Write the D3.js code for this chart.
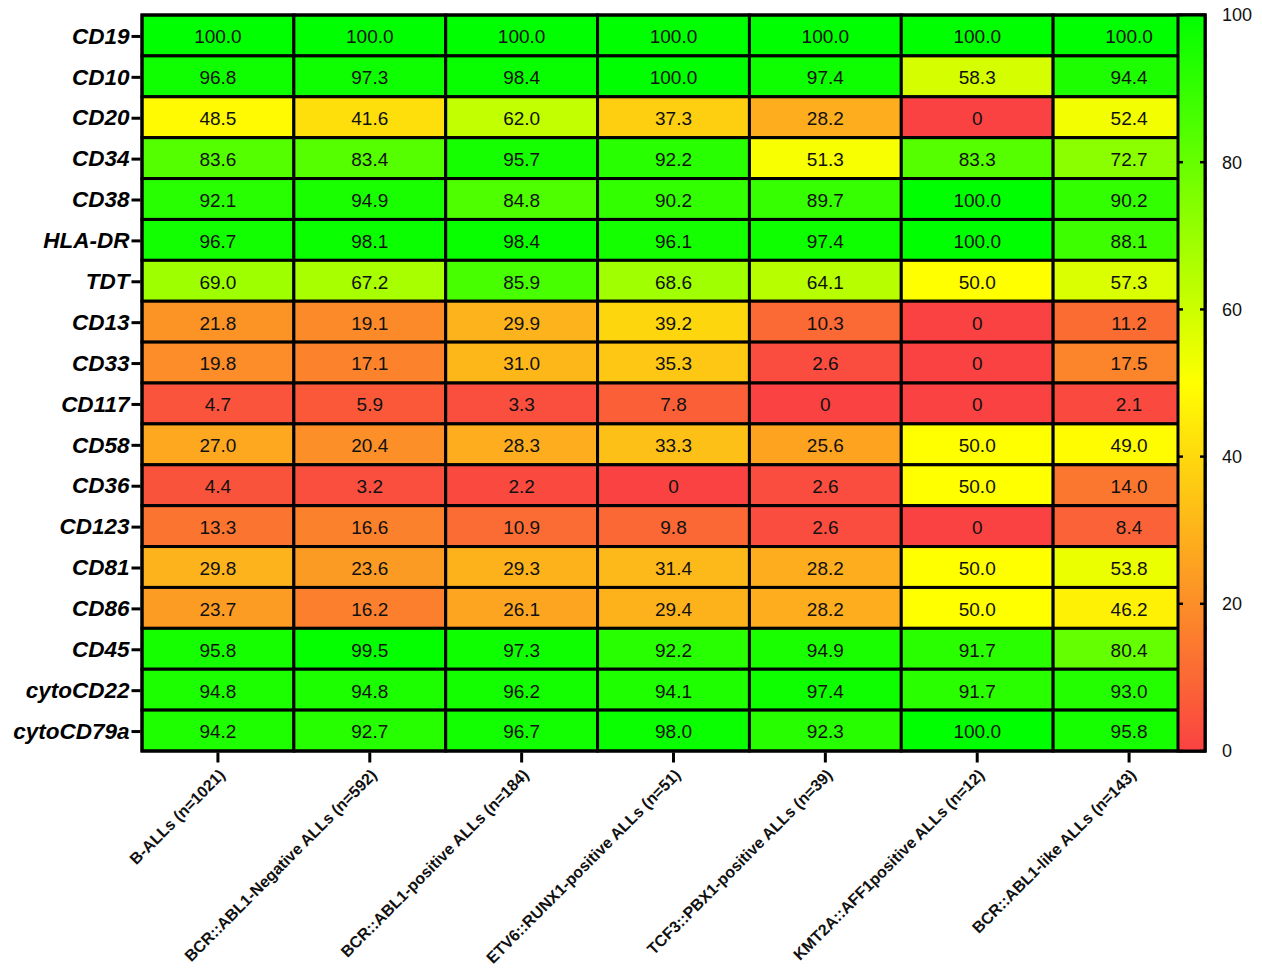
<!DOCTYPE html>
<html>
<head>
<meta charset="utf-8">
<script src="https://cdn.jsdelivr.net/npm/d3@7"></script>
<style>
  html, body { margin: 0; padding: 0; background: #fff; }
  svg { display: block; font-family: "Liberation Sans", Arial, sans-serif; }
</style>
</head>
<body>
<svg id="chart" width="1262" height="970"></svg>
<script>
// Surface markers (rows) and patient groups (columns)
const markers = ["CD19", "CD10", "CD20", "CD34", "CD38", "HLA-DR", "TDT", "CD13", "CD33",
  "CD117", "CD58", "CD36", "CD123", "CD81", "CD86", "CD45", "cytoCD22", "cytoCD79a"];

const groups = [
  "B-ALLs (n=1021)",
  "BCR::ABL1-Negative ALLs (n=592)",
  "BCR::ABL1-positive ALLs (n=184)",
  "ETV6::RUNX1-positive ALLs (n=51)",
  "TCF3::PBX1-positive ALLs (n=39)",
  "KMT2A::AFF1positive ALLs (n=12)",
  "BCR::ABL1-like ALLs (n=143)"
];

// Percentage of positive cases, one array per marker, in group order
const CD19      = [100.0, 100.0, 100.0, 100.0, 100.0, 100.0, 100.0];
const CD10      = [96.8, 97.3, 98.4, 100.0, 97.4, 58.3, 94.4];
const CD20      = [48.5, 41.6, 62.0, 37.3, 28.2, 0, 52.4];
const CD34      = [83.6, 83.4, 95.7, 92.2, 51.3, 83.3, 72.7];
const CD38      = [92.1, 94.9, 84.8, 90.2, 89.7, 100.0, 90.2];
const HLADR     = [96.7, 98.1, 98.4, 96.1, 97.4, 100.0, 88.1];
const TDT       = [69.0, 67.2, 85.9, 68.6, 64.1, 50.0, 57.3];
const CD13      = [21.8, 19.1, 29.9, 39.2, 10.3, 0, 11.2];
const CD33      = [19.8, 17.1, 31.0, 35.3, 2.6, 0, 17.5];
const CD117     = [4.7, 5.9, 3.3, 7.8, 0, 0, 2.1];
const CD58      = [27.0, 20.4, 28.3, 33.3, 25.6, 50.0, 49.0];
const CD36      = [4.4, 3.2, 2.2, 0, 2.6, 50.0, 14.0];
const CD123     = [13.3, 16.6, 10.9, 9.8, 2.6, 0, 8.4];
const CD81      = [29.8, 23.6, 29.3, 31.4, 28.2, 50.0, 53.8];
const CD86      = [23.7, 16.2, 26.1, 29.4, 28.2, 50.0, 46.2];
const CD45      = [95.8, 99.5, 97.3, 92.2, 94.9, 91.7, 80.4];
const cytoCD22  = [94.8, 94.8, 96.2, 94.1, 97.4, 91.7, 93.0];
const cytoCD79a = [94.2, 92.7, 96.7, 98.0, 92.3, 100.0, 95.8];

const rowValues = [CD19, CD10, CD20, CD34, CD38, HLADR, TDT, CD13, CD33, CD117,
  CD58, CD36, CD123, CD81, CD86, CD45, cytoCD22, cytoCD79a];

const legendTicks = [0, 20, 40, 60, 80, 100];

// Layout
const plotL = 142, plotR = 1205, plotT = 15, plotB = 751;
const barX0 = 1178;

const svg = d3.select("#chart");

const x = d3.scaleBand().domain(groups).range([plotL, plotR]).padding(0);
const y = d3.scaleBand().domain(markers).range([plotT, plotB]).padding(0);

const color = d3.scaleLinear()
  .domain([0, 50, 100])
  .range(["rgb(250,66,66)", "rgb(255,255,0)", "rgb(0,255,0)"])
  .interpolate(d3.interpolateRgb);

const cells = [];
markers.forEach((m, i) => {
  groups.forEach((g, j) => cells.push({ marker: m, group: g, value: rowValues[i][j] }));
});

// Heatmap cells
svg.append("g")
  .selectAll("rect")
  .data(cells)
  .join("rect")
  .attr("x", d => x(d.group))
  .attr("y", d => y(d.marker))
  .attr("width", x.bandwidth())
  .attr("height", y.bandwidth())
  .attr("fill", d => color(d.value))
  .attr("stroke", "#000")
  .attr("stroke-width", 3);

// Cell values
svg.append("g")
  .selectAll("text")
  .data(cells)
  .join("text")
  .attr("x", d => x(d.group) + x.bandwidth() / 2)
  .attr("y", d => y(d.marker) + y.bandwidth() / 2 + 1)
  .attr("dy", "0.36em")
  .attr("text-anchor", "middle")
  .attr("font-size", 19)
  .attr("fill", "#111")
  .text(d => d.value === 0 ? "0" : d.value.toFixed(1));

// Outer frame
svg.append("rect")
  .attr("x", plotL).attr("y", plotT)
  .attr("width", plotR - plotL).attr("height", plotB - plotT)
  .attr("fill", "none").attr("stroke", "#000").attr("stroke-width", 3);

// Y axis
const yAxis = svg.append("g")
  .attr("transform", `translate(${plotL - 1.5},1)`)
  .call(d3.axisLeft(y).tickSize(9).tickPadding(2));
yAxis.select(".domain").remove();
yAxis.selectAll(".tick line").attr("stroke", "#000").attr("stroke-width", 3);
yAxis.selectAll(".tick text")
  .attr("font-size", 22.5)
  .attr("font-weight", "bold")
  .attr("font-style", "italic")
  .attr("fill", "#000")
  .attr("font-family", "'Liberation Sans', Arial, sans-serif");

// X axis
const xAxis = svg.append("g")
  .attr("transform", `translate(0,${plotB + 1.5})`)
  .call(d3.axisBottom(x).tickSize(10).tickFormat(""));
xAxis.select(".domain").remove();
xAxis.selectAll(".tick line").attr("stroke", "#000").attr("stroke-width", 3);

svg.append("g")
  .selectAll("text")
  .data(groups)
  .join("text")
  .attr("transform", d => `translate(${x(d) + x.bandwidth() / 2 + 8},${plotB + 25}) rotate(-45)`)
  .attr("text-anchor", "end")
  .attr("font-size", 16)
  .attr("font-weight", "bold")
  .attr("fill", "#111")
  .text(d => d);

// Colour bar
const cScale = d3.scaleLinear().domain([0, 100]).range([plotB, plotT]);
const defs = svg.append("defs");
const grad = defs.append("linearGradient")
  .attr("id", "bar-grad")
  .attr("x1", 0).attr("y1", 1).attr("x2", 0).attr("y2", 0);
grad.selectAll("stop")
  .data(d3.range(0, 101, 5))
  .join("stop")
  .attr("offset", d => d / 100)
  .attr("stop-color", d => color(d));

svg.append("rect")
  .attr("x", barX0).attr("y", plotT)
  .attr("width", plotR - barX0).attr("height", plotB - plotT)
  .attr("fill", "url(#bar-grad)")
  .attr("stroke", "#000").attr("stroke-width", 3);

const barTicks = svg.append("g").selectAll("g")
  .data(legendTicks)
  .join("g")
  .attr("transform", d => `translate(0,${cScale(d)})`);
barTicks.append("line")
  .attr("x1", barX0).attr("x2", barX0 + 5)
  .attr("stroke", "#000").attr("stroke-width", 2.5);
barTicks.append("line")
  .attr("x1", plotR - 5).attr("x2", plotR)
  .attr("stroke", "#000").attr("stroke-width", 2.5);
barTicks.append("text")
  .attr("x", plotR + 17)
  .attr("dy", "0.36em")
  .attr("font-size", 18)
  .attr("fill", "#111")
  .text(d => d);
</script>
</body>
</html>
